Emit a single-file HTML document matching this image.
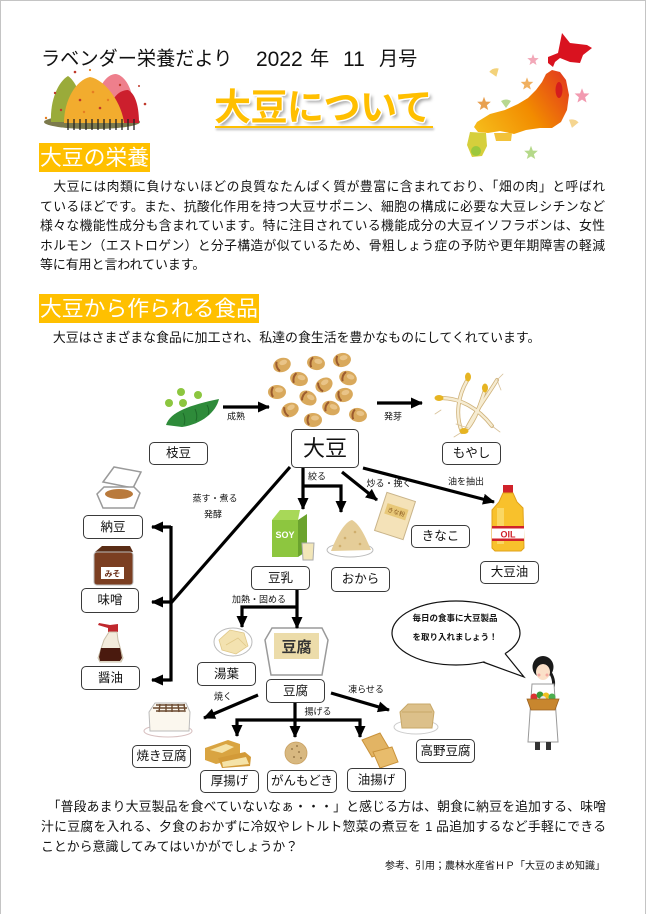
<!DOCTYPE html>
<html lang="ja"><head><meta charset="utf-8">
<style>
*{margin:0;padding:0;box-sizing:border-box}
html,body{width:647px;height:914px;overflow:hidden;background:#fff}
body{position:relative;font-family:"Liberation Sans","Noto Sans CJK JP",sans-serif;color:#111}
.frame{position:absolute;left:0;top:0;width:646px;height:940px;border:1px solid #c4c4c4}
.a{position:absolute;white-space:nowrap}
.c{position:absolute;white-space:nowrap;transform:translate(-50%,-50%);line-height:1}
.p{position:absolute;font-size:12.9px;line-height:20px;height:20px;white-space:nowrap}
.j{width:565px;font-size:12.8px;text-align:justify;text-align-last:justify;white-space:normal}
.box{position:absolute;border:1.5px solid #3a3a3a;border-radius:5px;background:#fff;display:flex;align-items:center;justify-content:center;font-size:12.5px;white-space:nowrap;line-height:1}
.lb{font-size:9px}
.sec{position:absolute;background:#ffc000;color:#fff;font-size:21.8px;line-height:29px;height:29px;white-space:nowrap;padding:0 1px}
svg{position:absolute;left:0;top:0}
</style></head>
<body>
<div class="frame"></div>

<svg width="647" height="914" viewBox="0 0 647 914">
<defs>
<marker id="ah" markerUnits="userSpaceOnUse" markerWidth="12" markerHeight="12" refX="11" refY="6" orient="auto"><path d="M0,0.5 L12,6 L0,11.5 Z" fill="#000"/></marker>
<path id="lf" d="M0,-6 L1.5,-2 L5.7,-1.9 L2.4,1 L3.5,5 L0,2.8 L-3.5,5 L-2.4,1 L-5.7,-1.9 L-1.5,-2 Z"/>
<path id="gk" d="M0,4 L-5,-3 Q0,-6 5,-3 Z"/>
<linearGradient id="jg" x1="562" y1="75" x2="475" y2="135" gradientUnits="userSpaceOnUse">
<stop offset="0" stop-color="#e4411a"/><stop offset=".45" stop-color="#f28c00"/><stop offset="1" stop-color="#f6bf1c"/>
</linearGradient>
</defs>

<!-- trees -->
<ellipse cx="92" cy="122" rx="48" ry="7" fill="#7c7a4c"/>
<path d="M96,110 C96,88 106,74 116,74 C126,76 132,90 133,102 L120,112 Z" fill="#ee7f8c"/>
<path d="M108,123 C108,100 118,90 128,90 C136,94 139,108 139,123 Z" fill="#cc1f2d"/>
<path d="M51,122 C50,100 58,82 68,76 C77,82 83,100 85,122 Z" fill="#9aab3a"/>
<path d="M64,123 C64,100 76,80 90,77 C106,80 122,104 124,123 Z" fill="#f2ac2e"/>
<g stroke="#222" stroke-width="1.3">
<line x1="68" y1="119" x2="68" y2="130"/><line x1="74" y1="119" x2="74" y2="130"/><line x1="80" y1="119" x2="80" y2="130"/><line x1="86" y1="119" x2="86" y2="130"/><line x1="92" y1="119" x2="92" y2="130"/><line x1="98" y1="119" x2="98" y2="130"/><line x1="104" y1="119" x2="104" y2="130"/><line x1="110" y1="119" x2="110" y2="130"/><line x1="116" y1="119" x2="116" y2="130"/><line x1="122" y1="119" x2="122" y2="130"/><line x1="128" y1="119" x2="128" y2="130"/><line x1="134" y1="119" x2="134" y2="130"/>
</g>
<g fill="#c0392b"><circle cx="75" cy="72" r="1.3"/><circle cx="55" cy="93" r="1.2"/><circle cx="145" cy="104" r="1.3"/><circle cx="80" cy="100" r="1.3"/><circle cx="100" cy="108" r="1.3"/><circle cx="120" cy="85" r="1.2"/><circle cx="61" cy="110" r="1.2"/><circle cx="139" cy="86" r="1"/></g>
<g fill="#e67e22"><circle cx="93" cy="92" r="1.3"/><circle cx="108" cy="100" r="1.2"/><circle cx="84" cy="112" r="1.2"/><circle cx="46" cy="118" r="1.2"/><circle cx="90" cy="70" r="1.1"/></g>

<!-- map -->
<path d="M562,33 L570,43 L587,45 L592,48 L583,55 L580,63 L570,62 L560,58 L555,62 L553,67 L548,63 L548,57 L558,53 L560,43 Z" fill="#d9121f"/>
<path d="M552,70 L560,72 L566,80 L569,95 L567,110 L561,122 L552,128 L540,128 L526,130 L514,134 L500,131 L488,133 L478,132 L474,127 L477,122 L490,114 L505,110 L518,104 L528,98 L536,90 L542,82 L546,74 Z" fill="url(#jg)"/>
<ellipse cx="559" cy="90" rx="3.5" ry="8" fill="#d51d1d"/>
<path d="M494,133 L512,133 L511,141 L496,141 Z" fill="#f2c23a"/>
<path d="M470,132 L486,133 L487,146 L482,156 L472,157 L467,145 Z" fill="#d6cf3c"/>
<ellipse cx="476" cy="151" rx="5" ry="5" fill="#9cc83c"/>
<use href="#lf" transform="translate(533,60)" fill="#f2a8b8"/>
<use href="#gk" transform="translate(495,73) rotate(-20)" fill="#f3d27a"/>
<use href="#lf" transform="translate(527,84) scale(1.1)" fill="#f0b060"/>
<use href="#lf" transform="translate(582,96) scale(1.3)" fill="#f29ab0"/>
<use href="#lf" transform="translate(484,104) scale(1.2)" fill="#e8a050"/>
<use href="#gk" transform="translate(506,104)" fill="#b8d890"/>
<use href="#gk" transform="translate(573,124) rotate(15)" fill="#f5d590"/>
<use href="#lf" transform="translate(531,153) scale(1.2)" fill="#b5d98a"/>

<!-- edamame -->
<path d="M166,425 C170,412 190,405 219,399 C216,412 202,424 182,427 Z" fill="#2e8b3a"/>
<path d="M183,413 q3,6 1,12 M195,409 q3,6 1,12 M207,405 q3,5 1,10" stroke="#1e6b2a" stroke-width="1" fill="none"/>
<g fill="#8cc63f"><circle cx="181" cy="392" r="4"/><circle cx="198" cy="395" r="4"/><circle cx="169" cy="403" r="4"/><circle cx="183" cy="403" r="4"/></g>

<!-- soybeans -->
<g>
<g transform="translate(282,365) rotate(-20)"><ellipse rx="9" ry="7" fill="#d9a95c"/><ellipse cx="2" cy="-2" rx="4" ry="2.5" fill="#e9c488"/><path d="M-4,-5 Q-7,0 -4,5" stroke="#9c5b2e" stroke-width="2" fill="none"/></g>
<g transform="translate(316,363) rotate(10)"><ellipse rx="9" ry="7" fill="#d9a95c"/><ellipse cx="2" cy="-2" rx="4" ry="2.5" fill="#e9c488"/><path d="M-4,-5 Q-7,0 -4,5" stroke="#9c5b2e" stroke-width="2" fill="none"/></g>
<g transform="translate(342,360) rotate(-10)"><ellipse rx="9" ry="7" fill="#d9a95c"/><ellipse cx="2" cy="-2" rx="4" ry="2.5" fill="#e9c488"/><path d="M-4,-5 Q-7,0 -4,5" stroke="#9c5b2e" stroke-width="2" fill="none"/></g>
<g transform="translate(299,379) rotate(15)"><ellipse rx="9" ry="7" fill="#d9a95c"/><ellipse cx="2" cy="-2" rx="4" ry="2.5" fill="#e9c488"/><path d="M-4,-5 Q-7,0 -4,5" stroke="#9c5b2e" stroke-width="2" fill="none"/></g>
<g transform="translate(324,385) rotate(-30)"><ellipse rx="9" ry="7" fill="#d9a95c"/><ellipse cx="2" cy="-2" rx="4" ry="2.5" fill="#e9c488"/><path d="M-4,-5 Q-7,0 -4,5" stroke="#9c5b2e" stroke-width="2" fill="none"/></g>
<g transform="translate(348,378) rotate(20)"><ellipse rx="9" ry="7" fill="#d9a95c"/><ellipse cx="2" cy="-2" rx="4" ry="2.5" fill="#e9c488"/><path d="M-4,-5 Q-7,0 -4,5" stroke="#9c5b2e" stroke-width="2" fill="none"/></g>
<g transform="translate(277,392)"><ellipse rx="9" ry="7" fill="#d9a95c"/><ellipse cx="2" cy="-2" rx="4" ry="2.5" fill="#e9c488"/><path d="M-4,-5 Q-7,0 -4,5" stroke="#9c5b2e" stroke-width="2" fill="none"/></g>
<g transform="translate(308,398) rotate(30)"><ellipse rx="9" ry="7" fill="#d9a95c"/><ellipse cx="2" cy="-2" rx="4" ry="2.5" fill="#e9c488"/><path d="M-4,-5 Q-7,0 -4,5" stroke="#9c5b2e" stroke-width="2" fill="none"/></g>
<g transform="translate(344,395) rotate(-15)"><ellipse rx="9" ry="7" fill="#d9a95c"/><ellipse cx="2" cy="-2" rx="4" ry="2.5" fill="#e9c488"/><path d="M-4,-5 Q-7,0 -4,5" stroke="#9c5b2e" stroke-width="2" fill="none"/></g>
<g transform="translate(290,410) rotate(-25)"><ellipse rx="9" ry="7" fill="#d9a95c"/><ellipse cx="2" cy="-2" rx="4" ry="2.5" fill="#e9c488"/><path d="M-4,-5 Q-7,0 -4,5" stroke="#9c5b2e" stroke-width="2" fill="none"/></g>
<g transform="translate(331,408) rotate(20)"><ellipse rx="9" ry="7" fill="#d9a95c"/><ellipse cx="2" cy="-2" rx="4" ry="2.5" fill="#e9c488"/><path d="M-4,-5 Q-7,0 -4,5" stroke="#9c5b2e" stroke-width="2" fill="none"/></g>
<g transform="translate(358,415) rotate(10)"><ellipse rx="9" ry="7" fill="#d9a95c"/><ellipse cx="2" cy="-2" rx="4" ry="2.5" fill="#e9c488"/><path d="M-4,-5 Q-7,0 -4,5" stroke="#9c5b2e" stroke-width="2" fill="none"/></g>
<g transform="translate(313,420)"><ellipse rx="9" ry="7" fill="#d9a95c"/><ellipse cx="2" cy="-2" rx="4" ry="2.5" fill="#e9c488"/><path d="M-4,-5 Q-7,0 -4,5" stroke="#9c5b2e" stroke-width="2" fill="none"/></g>
</g>

<!-- moyashi -->
<g fill="none" stroke-linecap="round">
<g stroke="#cfb27a" stroke-width="4">
<path d="M441,398 C460,398 478,408 492,426"/><path d="M468,379 C458,395 455,415 462,432"/><path d="M485,390 C480,405 476,418 468,428"/><path d="M466,430 C476,410 488,395 497,380"/>
</g>
<g stroke="#f6ecd2" stroke-width="2.4">
<path d="M441,398 C460,398 478,408 492,426"/><path d="M468,379 C458,395 455,415 462,432"/><path d="M485,390 C480,405 476,418 468,428"/><path d="M466,430 C476,410 488,395 497,380"/>
</g>
<g stroke="#d8c29a" stroke-width="0.8"><path d="M492,426 l8,6 M462,432 l-8,5 M468,428 l-12,-4 M497,380 l6,-6 M497,380 l4,10 M441,410 l-6,4"/></g>
</g>
<g fill="#e6b422"><ellipse cx="439" cy="398" rx="4.5" ry="3"/><ellipse cx="468" cy="377" rx="3" ry="4.5"/><ellipse cx="485" cy="388" rx="3" ry="4.5"/><ellipse cx="464" cy="431" rx="4.5" ry="3"/></g>

<!-- natto -->
<path d="M103,482 L114,467 L141,472 L133,488 Z" fill="#fff" stroke="#9a9a9a" stroke-width="1.5"/>
<path d="M97,494 L104,487 L134,487 L140,493 L134,508 L103,508 Z" fill="#fff" stroke="#9a9a9a" stroke-width="1.5"/>
<ellipse cx="119" cy="494" rx="14" ry="5" fill="#b97a3c"/>
<!-- miso -->
<path d="M95,552 L102,546 L130,546 L133,552 Z" fill="#5a2d16"/>
<rect x="94" y="552" width="39" height="33" rx="3" fill="#7b3f22" stroke="#bbb" stroke-width="1"/>
<rect x="101" y="567" width="23" height="12" fill="#fff"/>
<text x="112.5" y="576.5" font-size="8" text-anchor="middle" fill="#6b2f18" font-family="Liberation Sans,Noto Sans CJK JP,sans-serif" font-weight="bold">みそ</text>
<!-- soy sauce -->
<path d="M108,628 L98,625 L99,623 L110,625 L118,624 L118,632 L108,632 Z" fill="#c0272d"/>
<path d="M109,632 L117,632 L118,640 L123,658 L121,662 L100,662 L98,658 L104,640 Z" fill="#f3ecdc" stroke="#c9bfa8" stroke-width="1"/>
<path d="M101,648 L120,648 L122,658 L120,661 L100,661 L99,657 Z" fill="#4a1a0e"/>
<!-- soy milk -->
<path d="M272,520 L280,510 L300,510 L298,520 Z" fill="#a8d858"/>
<rect x="272" y="520" width="26" height="37" fill="#8dc63f"/>
<path d="M298,520 L307,514 L307,551 L298,557 Z" fill="#6ba32e"/>
<text x="285" y="538" font-size="9" text-anchor="middle" fill="#fff" font-weight="bold" font-family="Liberation Sans,sans-serif">SOY</text>
<path d="M302,543 L314,543 L313,560 L303,560 Z" fill="#f2e6b8" stroke="#aaa" stroke-width="1"/>
<!-- okara -->
<ellipse cx="350" cy="550" rx="23" ry="7" fill="#fff" stroke="#bbb" stroke-width="1"/>
<path d="M331,551 C336,538 344,522 352,520 C360,524 366,538 371,550 Z" fill="#e5cd98"/>
<g fill="#cfae6c"><circle cx="345" cy="538" r="1.3"/><circle cx="355" cy="532" r="1.3"/><circle cx="360" cy="544" r="1.3"/><circle cx="340" cy="546" r="1.3"/></g>
<!-- kinako -->
<g transform="translate(395,516) rotate(18)">
<rect x="-15" y="-20" width="30" height="40" fill="#f4e2b8" stroke="#c9b48a" stroke-width="1"/>
<rect x="-11" y="-10" width="22" height="11" fill="#e8c878"/>
<text x="0" y="-2" font-size="6" text-anchor="middle" fill="#8a5a20" font-family="Liberation Sans,Noto Sans CJK JP,sans-serif">きな粉</text>
</g>
<!-- oil -->
<rect x="503" y="485" width="10" height="8" fill="#d0222a"/>
<path d="M503,493 L513,493 L517,502 L523,508 L524,548 L521,551 L495,551 L492,548 L492,510 L499,502 Z" fill="#f8c12c" stroke="#e0a21a" stroke-width="1"/>
<rect x="497" y="508" width="7" height="36" fill="#fbdf7a" opacity=".7"/>
<rect x="492" y="526" width="32" height="15" fill="#fff"/>
<rect x="492" y="526" width="32" height="2.5" fill="#d0222a"/><rect x="492" y="538.5" width="32" height="2.5" fill="#d0222a"/>
<text x="508" y="537.5" font-size="9" text-anchor="middle" fill="#d0222a" font-weight="bold" font-family="Liberation Sans,sans-serif">OIL</text>
<!-- yuba -->
<ellipse cx="233" cy="642" rx="19" ry="14" fill="#fff" stroke="#bbb" stroke-width="1"/>
<path d="M219,640 L230,630 L244,633 L248,646 L236,654 L222,650 Z" fill="#f3e2b0" stroke="#e0c888" stroke-width=".8"/>
<path d="M226,645 L238,638 L246,646" stroke="#e0c888" fill="none" stroke-width=".8"/>
<!-- tofu -->
<path d="M265,640 L272,628 L322,628 L328,640 L322,675 L271,675 Z" fill="#fff" stroke="#9a9a9a" stroke-width="1.5"/>
<rect x="274" y="633" width="45" height="26" fill="#ecdcaa"/>
<text x="296.5" y="652" font-size="15" text-anchor="middle" fill="#333" font-weight="bold" font-family="Liberation Sans,Noto Sans CJK JP,sans-serif">豆腐</text>
<!-- yaki dofu -->
<ellipse cx="168" cy="731" rx="24" ry="6" fill="#fff" stroke="#d8c0c0" stroke-width="1"/>
<path d="M149,712 L155,703 L186,703 L190,712 L189,731 L150,731 Z" fill="#fbf7ee" stroke="#bbb" stroke-width="1"/>
<g stroke="#6b4a30" stroke-width="1.4"><path d="M153,708 L187,708 M156,711 L184,711 M156,705 L185,705"/><path d="M160,704 L159,712 M166,704 L166,712 M172,704 L172,712 M178,704 L179,712 M184,704 L185,712"/></g>
<!-- atsuage -->
<path d="M205,748 L228,740 L240,744 L240,758 L216,764 L205,760 Z" fill="#d9a441"/>
<path d="M210,750 L226,744 L234,747 L222,753 Z" fill="#f5e3a8"/>
<path d="M218,758 L245,752 L251,757 L250,766 L222,768 Z" fill="#d39a38"/>
<path d="M222,762 L246,757 L249,764 L223,767 Z" fill="#f5e3a8"/>
<!-- ganmo -->
<circle cx="296" cy="753" r="11" fill="#d8b880" stroke="#c8a060" stroke-width=".8"/>
<g fill="#8a6a3a"><circle cx="292" cy="749" r=".9"/><circle cx="299" cy="752" r=".9"/><circle cx="294" cy="757" r=".9"/><circle cx="301" cy="758" r=".9"/><circle cx="297" cy="746" r=".9"/></g>
<!-- aburaage -->
<path d="M362,740 L380,733 L390,750 L372,757 Z" fill="#e2b464" stroke="#c9923a" stroke-width="1"/>
<path d="M373,752 L392,747 L398,762 L380,768 Z" fill="#e8bc6c" stroke="#c9923a" stroke-width="1"/>
<!-- koya dofu -->
<ellipse cx="416" cy="727" rx="22" ry="7" fill="#fff" stroke="#ccc" stroke-width="1"/>
<path d="M400,712 L408,704 L430,704 L434,712 L432,728 L402,728 Z" fill="#dcc08a" stroke="#c8a868" stroke-width="1"/>
<path d="M402,712 L432,712" stroke="#c8a868" stroke-width="1"/>

<!-- woman -->
<ellipse cx="543" cy="667" rx="10.5" ry="11" fill="#1a1a1a"/>
<path d="M550,672 Q556,682 552,690" stroke="#1a1a1a" stroke-width="3" fill="none"/>
<ellipse cx="543" cy="672" rx="7" ry="8" fill="#fbe0c8"/>
<path d="M535,668 Q543,660 551,668 L551,664 Q543,656 535,664 Z" fill="#1a1a1a"/>
<circle cx="539" cy="675" r="1.5" fill="#f4a8a0"/><circle cx="547" cy="675" r="1.5" fill="#f4a8a0"/>
<path d="M532,684 L554,684 L558,742 L528,742 Z" fill="#fff" stroke="#999" stroke-width="1"/>
<rect x="535" y="742" width="5" height="8" fill="#333"/><rect x="546" y="742" width="5" height="8" fill="#333"/>
<circle cx="534" cy="697" r="3.5" fill="#d33"/><circle cx="540" cy="695" r="3.5" fill="#3a9a3a"/><circle cx="546" cy="696" r="3.5" fill="#f0c020"/><circle cx="552" cy="697" r="3.5" fill="#4caf50"/><circle cx="543" cy="699" r="3" fill="#e8e8e8"/>
<path d="M527,699 L559,699 L555,710 L531,710 Z" fill="#c8862e" stroke="#9a6020" stroke-width=".8"/>

<!-- speech bubble -->
<ellipse cx="456" cy="633" rx="64" ry="32" fill="#fff" stroke="#111" stroke-width="1.2"/>
<path d="M483,661 L524,677 L505,653 Z" fill="#fff"/>
<path d="M483,662 L524,677 L505,653.5" fill="none" stroke="#111" stroke-width="1.2"/>

<!-- connectors -->
<g stroke="#000" stroke-width="3.2" fill="none">
<path d="M223,407 L269,407" marker-end="url(#ah)"/>
<path d="M377,403 L422,403" marker-end="url(#ah)"/>
<path d="M290,467 L171,603"/>
<path d="M171,526 L171,681.5"/>
<path d="M171,527 L152,527" marker-end="url(#ah)"/>
<path d="M171,602 L152,602" marker-end="url(#ah)"/>
<path d="M171,680 L152,680" marker-end="url(#ah)"/>
<path d="M303,468 L303,509" marker-end="url(#ah)"/>
<path d="M303,486 L341,486 L341,512" marker-end="url(#ah)"/>
<path d="M342,472 L377,500" marker-end="url(#ah)"/>
<path d="M363,468 L494,502" marker-end="url(#ah)"/>
<path d="M297,590 L297,628" marker-end="url(#ah)"/>
<path d="M297,607 L242,607 L242,627" marker-end="url(#ah)"/>
<path d="M258,695 L204,718" marker-end="url(#ah)"/>
<path d="M331,693 L389,710" marker-end="url(#ah)"/>
<path d="M295,703 L295,737" marker-end="url(#ah)"/>
<path d="M295,720 L237,720 L237,736" marker-end="url(#ah)"/>
<path d="M295,720 L360,720 L360,737" marker-end="url(#ah)"/>
</g>
</svg>

<!-- header -->
<div class="a" style="left:41px;top:48px;font-size:19.2px;line-height:24px">ラベンダー栄養だより</div>
<div class="a" style="left:256px;top:48px;font-size:21px;line-height:24px">2022</div>
<div class="a" style="left:310px;top:48px;font-size:19.2px;line-height:24px">年</div>
<div class="a" style="left:343px;top:48px;font-size:21px;line-height:24px">11</div>
<div class="a" style="left:379px;top:48px;font-size:19.2px;line-height:24px">月号</div>

<div class="a" style="left:214px;top:89px;font-size:37px;line-height:37px;font-weight:bold;color:#ffbf00;letter-spacing:-0.5px;text-shadow:1.5px 0 #fff,-1.5px 0 #fff,0 1.5px #fff,0 -1.5px #fff,1px 1px #fff,-1px -1px #fff,1px -1px #fff,-1px 1px #fff,3px 3px 3px rgba(0,0,0,.35)">大豆について</div>
<div class="a" style="left:215px;top:126px;width:218px;height:2px;background:#ffc000;box-shadow:1px 2px 2px rgba(0,0,0,.3)"></div>

<!-- section 1 -->
<div class="sec" style="left:39px;top:143px">大豆の栄養</div>
<div class="p j" style="left:40px;top:177px">　大豆には肉類に負けないほどの良質なたんぱく質が豊富に含まれており、「畑の肉」と呼ばれ</div>
<div class="p j" style="left:40px;top:196.5px">ているほどです。また、抗酸化作用を持つ大豆サポニン、細胞の構成に必要な大豆レシチンなど</div>
<div class="p j" style="left:40px;top:216px">様々な機能性成分も含まれています。特に注目されている機能成分の大豆イソフラボンは、女性</div>
<div class="p j" style="left:40px;top:235.5px">ホルモン（エストロゲン）と分子構造が似ているため、骨粗しょう症の予防や更年期障害の軽減</div>
<div class="p" style="left:40px;top:255px">等に有用と言われています。</div>

<!-- section 2 -->
<div class="sec" style="left:39px;top:294px">大豆から作られる食品</div>
<div class="p" style="left:40px;top:328px">　大豆はさまざまな食品に加工され、私達の食生活を豊かなものにしてくれています。</div>

<!-- labels -->
<div class="c lb" style="left:236px;top:417px">成熟</div>
<div class="c lb" style="left:393px;top:417px">発芽</div>
<div class="c lb" style="left:215px;top:499px">蒸す・煮る</div>
<div class="c lb" style="left:213px;top:515px">発酵</div>
<div class="c lb" style="left:317px;top:477px">絞る</div>
<div class="c lb" style="left:389px;top:484px">炒る・挽く</div>
<div class="c lb" style="left:466px;top:482px">油を抽出</div>
<div class="c lb" style="left:259px;top:600px">加熱・固める</div>
<div class="c lb" style="left:223px;top:697px">焼く</div>
<div class="c lb" style="left:318px;top:712px">揚げる</div>
<div class="c lb" style="left:366px;top:690px">凍らせる</div>
<div class="c" style="left:455px;top:618px;font-size:8.5px;font-weight:bold">毎日の食事に大豆製品</div>
<div class="c" style="left:455px;top:637px;font-size:8.5px;font-weight:bold">を取り入れましょう！</div>

<!-- boxes -->
<div class="box" style="left:149px;top:442px;width:59px;height:23px">枝豆</div>
<div class="box" style="left:291px;top:429px;width:68px;height:39px;font-size:22px">大豆</div>
<div class="box" style="left:442px;top:442px;width:59px;height:23px">もやし</div>
<div class="box" style="left:83px;top:515px;width:60px;height:24px">納豆</div>
<div class="box" style="left:81px;top:588px;width:58px;height:25px">味噌</div>
<div class="box" style="left:81px;top:666px;width:59px;height:24px">醤油</div>
<div class="box" style="left:251px;top:566px;width:59px;height:24px">豆乳</div>
<div class="box" style="left:331px;top:567px;width:59px;height:25px">おから</div>
<div class="box" style="left:411px;top:525px;width:59px;height:23px">きなこ</div>
<div class="box" style="left:480px;top:561px;width:59px;height:23px">大豆油</div>
<div class="box" style="left:197px;top:662px;width:59px;height:24px">湯葉</div>
<div class="box" style="left:266px;top:679px;width:59px;height:24px">豆腐</div>
<div class="box" style="left:132px;top:745px;width:59px;height:23px">焼き豆腐</div>
<div class="box" style="left:200px;top:770px;width:59px;height:23px">厚揚げ</div>
<div class="box" style="left:267px;top:770px;width:70px;height:23px">がんもどき</div>
<div class="box" style="left:347px;top:768px;width:59px;height:24px">油揚げ</div>
<div class="box" style="left:416px;top:739px;width:59px;height:24px">高野豆腐</div>

<!-- bottom text -->
<div class="p j" style="left:41px;top:797px">　「普段あまり大豆製品を食べていないなぁ・・・」と感じる方は、朝食に納豆を追加する、味噌</div>
<div class="p j" style="left:41px;top:817px">汁に豆腐を入れる、夕食のおかずに冷奴やレトルト惣菜の煮豆を 1 品追加するなど手軽にできる</div>
<div class="p" style="left:41px;top:837px">ことから意識してみてはいかがでしょうか？</div>
<div class="a" style="right:42px;top:860px;font-size:10px;line-height:13px">参考、引用；農林水産省ＨＰ「大豆のまめ知識」</div>
</body></html>
